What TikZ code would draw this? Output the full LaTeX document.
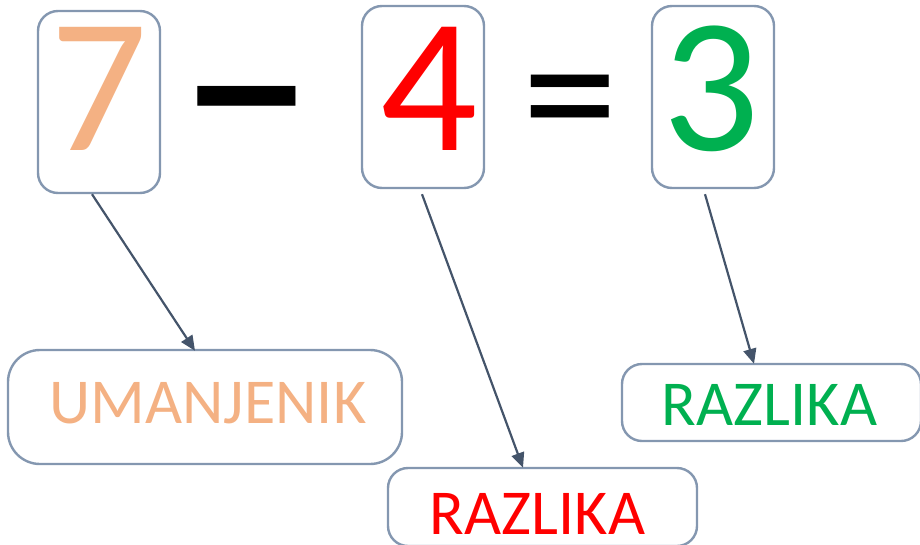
\documentclass[tikz,border=0pt]{standalone}
\usepackage{fontspec}
\setmainfont{Carlito}
\usetikzlibrary{arrows.meta}
\definecolor{borderc}{HTML}{8497B0}
\definecolor{arrowc}{HTML}{44546A}
\definecolor{seven}{HTML}{F4B183}
\definecolor{grn}{HTML}{00B050}
\definecolor{rd}{HTML}{FF0000}
\begin{document}
\begin{tikzpicture}[x=1pt,y=-1pt,
  box/.style={draw=borderc, line width=2.4pt, rounded corners=20pt, inner sep=0pt, fill=white},
  digit/.style={box, minimum width=122pt, minimum height=182pt, font=\fontsize{192}{192}\selectfont, text height=122pt},
  lab/.style={box, font=\fontsize{64}{64}\selectfont},
  arr/.style={draw=arrowc, line width=2.2pt, -{Triangle[length=15pt,width=13pt]}},
  sign/.style={font=\fontsize{192}{192}\selectfont, inner sep=0pt, anchor=base}]
\useasboundingbox (0,0) rectangle (920,544);
\node[digit, text depth=26pt, text=seven] (n7) at (99,102) {7};
\node[digit, text depth=16pt, text=rd] (n4) at (423,97) {\kern12pt 4};
\node[digit, text depth=16pt, text=grn] (n3) at (713,97) {3\kern4pt};
\node[sign] (minus) at (246.5,184) {\scalebox{1.43}[1.65]{–}};
\node[sign] (eq) at (570,157) {=};
\node[lab, minimum width=394pt, minimum height=114pt, rounded corners=32pt, text height=42pt, text depth=10pt, text=seven] (um) at (205,407) {\kern6pt UMANJENIK};
\node[lab, minimum width=309pt, minimum height=78pt, text height=60pt, text depth=5pt, text=rd] (rr) at (542.5,507) {RAZLIKA\kern10pt};
\node[lab, minimum width=299pt, minimum height=77pt, text height=50pt, text depth=5pt, text=grn] (gr) at (771.5,402.5) {RAZLIKA\kern4pt};
\draw[arr] ([xshift=-7pt]n7.south) -- ([xshift=-10pt,yshift=-2pt]um.north);
\draw[arr] ([xshift=-1pt,yshift=-5pt]n4.south) -- ([xshift=-19.5pt,yshift=-1pt]rr.north);
\draw[arr] ([xshift=-8pt,yshift=-5pt]n3.south) -- ([xshift=-17.5pt,yshift=-1pt]gr.north);
\end{tikzpicture}
\end{document}
